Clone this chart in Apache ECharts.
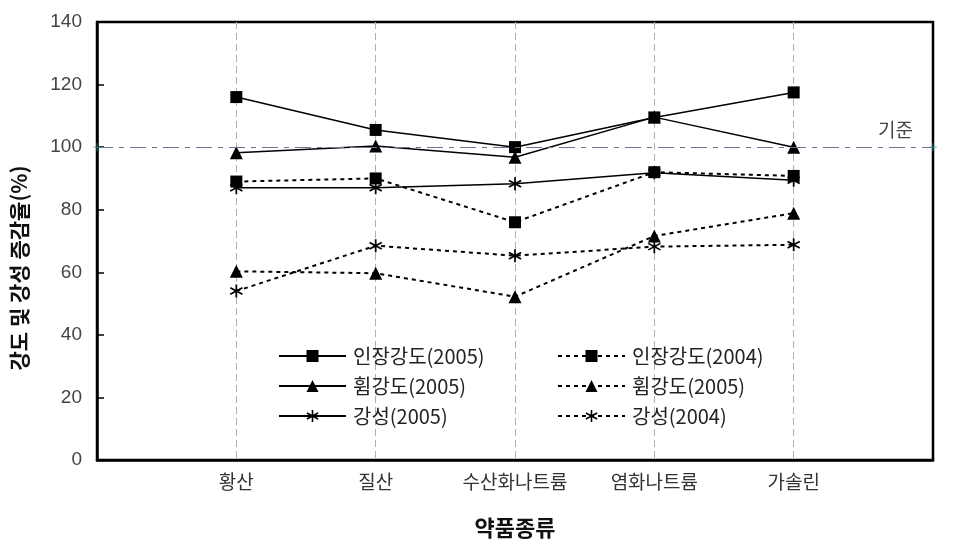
<!DOCTYPE html>
<html><head><meta charset="utf-8">
<script src="https://cdn.jsdelivr.net/npm/echarts@6/dist/echarts.min.js"></script>
<style>html,body{margin:0;padding:0;background:#fff}#c{width:953px;height:557px}</style>
</head><body><div id="c"></div>
<script>
var categories = ['황산', '질산', '수산화나트륨', '염화나트륨', '가솔린'];
var tensile2005 = [116, 105.5, 100, 109.5, 117.5];
var flexural2005 = [98.2, 100.4, 96.8, 109.6, 100];
var stiffness2005 = [87, 87, 88.3, 91.8, 89.4];
var tensile2004 = [89, 90, 76, 92, 90.8];
var flexural2005b = [60.3, 59.7, 52.2, 71.6, 78.9];
var stiffness2004 = [54, 68.5, 65.3, 68.2, 68.8];
var legendNames = ['인장강도(2005)', '휨강도(2005)', '강성(2005)', '인장강도(2004)', '휨강도(2005)', '강성(2004)'];
var yTicks = [0, 20, 40, 60, 80, 100, 120, 140];
var referenceValue = 100;
var referenceLabel = '기준';
var xTitle = '약품종류';
var yTitle = '강도 및 강성 증감율(%)';

var xCats = [''].concat(categories).concat(['']);
function pad(a){ return [null].concat(a).concat([null]); }
var star = 'path://M4.4 0L5.6 0L5.6 10L4.4 10Z M1.1 1.95L9.5 6.95L8.9 8.05L0.5 3.05Z M0.5 6.95L8.9 1.95L9.5 3.05L1.1 8.05Z';
var plus = 'path://M4.4 0L5.6 0L5.6 4.4L10 4.4L10 5.6L5.6 5.6L5.6 10L4.4 10L4.4 5.6L0 5.6L0 4.4L4.4 4.4Z';
var ids = ['s1','s2','s3','s4','s5','s6'];
var nameMap = {}; ids.forEach(function(k,i){ nameMap[k] = legendNames[i]; });
function mk(id, data, symbol, size, dashed){
  return {
    name: id, type: 'line', data: pad(data), symbol: symbol, symbolSize: size,
    connectNulls: false, animation: false,
    itemStyle: {color: '#000'},
    lineStyle: {color: '#000', width: dashed ? 2 : 1.5, type: dashed ? [4, 4] : 'solid'}
  };
}
var series = [
  mk('s1', tensile2005, 'rect', 12, false),
  mk('s2', flexural2005, 'triangle', 13, false),
  mk('s3', stiffness2005, star, 13, false),
  mk('s4', tensile2004, 'rect', 12, true),
  mk('s5', flexural2005b, 'triangle', 13, true),
  mk('s6', stiffness2004, star, 13, true)
];
series[0].markLine = {
  silent: true, symbol: ['none', 'none'],
  lineStyle: {color: '#6a7590', width: 1, type: [16, 6, 5, 6]},
  label: {show: true, position: 'insideEndTop', formatter: referenceLabel, color: '#444', fontSize: 19, fontFamily: 'Noto Sans CJK KR', distance: [20, 8]},
  data: [{yAxis: referenceValue}]
};
series.push({
  type: 'scatter', symbol: plus, symbolSize: 8, silent: true, animation: false,
  itemStyle: {color: '#1a8a8a'}, z: 5,
  data: [[0, referenceValue], [xCats.length - 1, referenceValue]]
});
var legendCommon = {
  orient: 'vertical', itemWidth: 67, itemHeight: 15, itemGap: 10, padding: 0,
  selectedMode: false,
  textStyle: {fontSize: 20, color: '#222', fontFamily: 'Noto Sans CJK KR', padding: [0, 0, 0, 2]},
  formatter: function(n){ return nameMap[n]; }
};
var chart = echarts.init(document.getElementById('c'), null, {renderer: 'canvas'});
chart.setOption({
  backgroundColor: '#fff',
  animation: false,
  grid: {left: 97, right: 20, top: 22, bottom: 97, show: true, borderColor: '#000', borderWidth: 2.5, containLabel: false},
  legend: [
    Object.assign({data: ['s1','s2','s3'], left: 278, top: 346}, legendCommon),
    Object.assign({data: ['s4','s5','s6'], left: 557, top: 346}, legendCommon)
  ],
  graphic: [{
    type: 'text', x: 19, y: 268, rotation: Math.PI / 2, silent: true,
    style: {text: yTitle, fontSize: 21, fontWeight: 'bold', fill: '#111', fontFamily: 'Noto Sans CJK KR', align: 'center', verticalAlign: 'middle'}
  }],
  xAxis: {
    type: 'category', data: xCats, boundaryGap: false,
    name: xTitle, nameLocation: 'middle', nameGap: 57,
    nameTextStyle: {fontSize: 22, fontWeight: 'bold', color: '#111', fontFamily: 'Noto Sans CJK KR'},
    axisLine: {show: true, lineStyle: {color: '#000', width: 2.5}},
    axisTick: {show: false},
    axisLabel: {interval: 0, fontSize: 19, color: '#333', margin: 12, fontFamily: 'Noto Sans CJK KR'},
    splitLine: {show: true, interval: function(i){ return i > 0 && i < xCats.length - 1; }, lineStyle: {color: '#b0b0b0', width: 1, type: [7, 4]}}
  },
  yAxis: {
    type: 'value', min: yTicks[0], max: yTicks[yTicks.length - 1], interval: yTicks[1] - yTicks[0],
    axisLine: {show: true, lineStyle: {color: '#000', width: 2.5}},
    axisTick: {show: true, inside: true, length: 7, lineStyle: {color: '#000', width: 1.5}},
    axisLabel: {fontSize: 19, color: '#444', margin: 15, fontFamily: 'Liberation Sans'},
    splitLine: {show: false}
  },
  series: series
});
</script></body></html>
